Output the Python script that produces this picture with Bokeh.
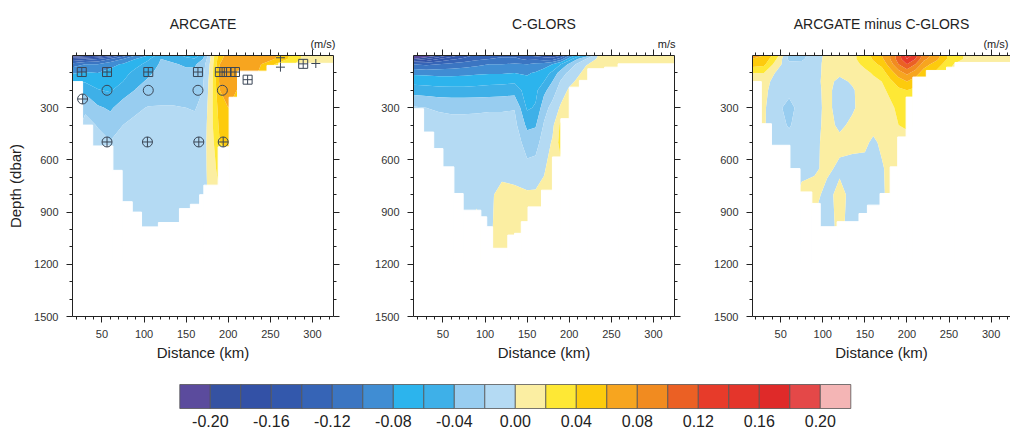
import numpy as np
from bokeh.plotting import figure
from bokeh.models import Range1d, FixedTicker, LinearAxis, Title
from bokeh.layouts import row, column
from bokeh.embed import file_html
from bokeh.resources import INLINE
from bokeh.core.properties import value

FONT = "Liberation Sans"

# ---------------- data ----------------
distance_km = [15, 30, 45, 60, 75, 90, 105, 120, 135, 150, 160, 170, 180, 190, 200, 210, 220, 235, 255, 290, 325]
depth_dbar = [0, 20, 50, 100, 150, 200, 300, 400, 500, 650, 800, 1000, 1200]

# velocity profiles in cm/s: one list per distance, values at depth_dbar
arcgate_cms = [
    [-22, -16, -11, -8.2, -6.2, -5.5, -4, -3, -3, -2, -2, -2, -2],
    [-21, -15, -10, -7.8, -6.2, -4.5, -2.3, -1.5, -1.2, -1, -1, -1, -1],
    [-20, -14, -10, -8, -6.6, -5.9, -3.7, -2.1, -1.5, -1.2, -1, -1, -1],
    [-17, -12, -8.5, -7.5, -6.8, -6.2, -4.3, -2.9, -1.9, -1.5, -1, -1, -1],
    [-13, -10, -7.8, -6.8, -6, -5, -3, -2, -1.5, -1.2, -1, -1, -1],
    [-10, -8, -6.7, -5.3, -4.6, -3.9, -2.3, -1.6, -1.3, -1, -1, -1, -1],
    [-8, -6.3, -5.3, -4.4, -3.7, -3.2, -1.9, -1.5, -1.2, -1, -1, -1, -1],
    [-4.5, -4, -3.7, -3.3, -3, -2.7, -1.9, -1.4, -1.1, -1, -1, -1, -1],
    [-5, -4.5, -3.8, -3.3, -3, -2.7, -1.9, -1.4, -1.1, -1, -1, -1, -1],
    [-6.5, -5.5, -4.3, -3.5, -3.1, -2.8, -2, -1.4, -1, -1, -1, -1, -1],
    [-7, -5.8, -4.3, -3.5, -3.1, -2.8, -2.1, -1.6, -1.1, -1, -1, -1, -1],
    [-5, -4, -3, -2.5, -2.2, -2, -1.6, -1.2, -0.8, -0.6, -0.5, -0.5, -0.5],
    [0.5, 0.5, 0.8, 1, 1.2, 1.3, 1.5, 1.5, 1.2, 0.8, 0.5, 0.5, 0.5],
    [5, 5.5, 6, 6.5, 6.5, 6, 5, 4.5, 4, 3, 2, 1, 1],
    [7, 7, 7, 7, 7, 6.5, 6, 5, 4.5, 3, 2, 1, 1],
    [7, 7, 7, 7, 6.5, 6, 5, 4, 3, 2, 1, 1, 1],
    [7, 7, 7, 6.5, 6, 5, 4, 3, 2, 1, 1, 1, 1],
    [7, 7, 6.5, 6, 5, 4, 3, 2, 1, 1, 1, 1, 1],
    [6.5, 6, 4, 2, 1.5, 1, 1, 1, 1, 1, 1, 1, 1],
    [1.5, 1.5, 1, 1, 1, 1, 1, 1, 1, 1, 1, 1, 1],
    [1, 1, 1, 1, 1, 1, 1, 1, 1, 1, 1, 1, 1],
]

cglors_cms = [
    [-24, -20, -12, -8.4, -6.7, -4.8, -1.8, -1.2, -1, -1, -1, -1, -1],
    [-22, -18, -12.5, -8.5, -6.8, -5, -2, -1.3, -1, -1, -1, -1, -1],
    [-20, -16, -12, -8.6, -7, -5.2, -2.2, -1.4, -1, -1, -1, -1, -1],
    [-17, -14.5, -11.5, -8.6, -7, -5.3, -2.3, -1.5, -1, -1, -1, -1, -1],
    [-15, -13.5, -11, -8.5, -7, -5.3, -2.3, -1.5, -1, -0.8, -0.6, -0.5, -0.5],
    [-13.5, -12.5, -10.5, -8.3, -6.8, -5.2, -2.3, -1.4, -1, -0.7, -0.2, 0.3, 0.3],
    [-13, -12, -10, -8.2, -6.6, -5.1, -2.2, -1.4, -1, -0.7, -0.3, -0.3, -0.3],
    [-12.5, -11.5, -10, -8.2, -6.5, -5, -2.2, -1.4, -1, -0.5, 0.5, 0.8, 0.8],
    [-12.5, -11.5, -9.8, -8, -6.3, -4.8, -2.1, -1.4, -1, -0.5, 0.3, 0.5, 0.5],
    [-14, -12.5, -10, -8.2, -7.5, -7, -6.3, -4.5, -2.8, -1.5, 0.3, 0.5, 0.5],
    [-14.5, -12.5, -9.5, -7.8, -7, -6.5, -5.8, -4.2, -2.8, -1.2, 0.3, 0.5, 0.5],
    [-15, -13, -9, -7, -6, -4.5, -2.8, -1.8, -1, -0.2, 0.5, 0.5, 0.5],
    [-16, -13, -8, -5.5, -4, -3, -1.3, -0.5, 0.2, 0.8, 1, 1, 1],
    [-14, -11, -6, -3, -1.8, -1, 0.3, 2.5, 2.8, 1.5, 1, 1, 1],
    [-10, -7, -3.5, -1.5, -0.5, 0.3, 0.8, 1, 1, 1, 1, 1, 1],
    [-7, -4, -1.5, -0.3, 0.3, 0.5, 1, 1, 1, 1, 1, 1, 1],
    [-5, -2, -0.1, 0.5, 0.5, 0.5, 0.5, 0.5, 0.5, 0.5, 0.5, 0.5, 0.5],
    [0.3, 0.5, 0.5, 0.5, 0.5, 0.5, 0.5, 0.5, 0.5, 0.5, 0.5, 0.5, 0.5],
    [0.5, 0.5, 0.5, 0.5, 0.5, 0.5, 0.5, 0.5, 0.5, 0.5, 0.5, 0.5, 0.5],
    [0.5, 0.5, 0.5, 0.5, 0.5, 0.5, 0.5, 0.5, 0.5, 0.5, 0.5, 0.5, 0.5],
    [0.5, 0.5, 0.5, 0.5, 0.5, 0.5, 0.5, 0.5, 0.5, 0.5, 0.5, 0.5, 0.5],
]

diff_cms = [
    [7, 6, 5, 2, 0.5, 1, 1, 1, 1, 1, 1, 1, 1],
    [6, 5.5, 4.5, 2, 0.8, 0.6, 0.3, 0.2, 0.2, 0.2, 0.2, 0.2, 0.2],
    [3, 2, 1, -0.3, -0.8, -1.2, -1.5, -1.2, -1, -0.8, -0.5, -0.5, -0.5],
    [-2.5, -2.5, -1.5, -1, -1, -1.5, -2.6, -2.2, -1.2, -0.7, -0.5, -0.5, -0.5],
    [-2.6, -2.3, -1.5, -1, -0.8, -0.8, -1.2, -1, -0.8, -0.3, 0.3, -0.3, -0.3],
    [-1, -1, -0.8, -0.6, -0.5, -0.5, -0.6, -0.6, -0.4, -0.2, 0.5, -0.3, -0.3],
    [0.5, 0.6, 0.6, 0.5, 0.5, 0.4, 0.4, 0.5, 0.5, 0.3, -0.5, -0.5, -0.5],
    [0.8, 0.8, 0.6, 0.3, -0.4, -0.6, -0.6, -0.3, 0.4, -0.3, 0.5, 0.3, 0.3],
    [1.5, 1.5, 1.2, 0.8, 0.2, -0.2, -0.2, 0.3, 0.4, -0.5, -0.5, -0.5, -0.5],
    [3, 3, 2.5, 1.5, 1, 0.8, 0.6, 0.4, 0.3, -0.5, -0.5, -0.5, -0.5],
    [4.5, 4.2, 3.5, 2.2, 1.5, 1.2, 0.8, 0.5, -0.3, -0.5, -0.5, -0.5, -0.5],
    [6, 5.5, 4.5, 3, 2, 1.5, 1, 0.8, 0.3, -0.2, -0.3, -0.3, -0.3],
    [8, 8, 7, 5, 3.5, 2.5, 1.5, 1.2, 0.8, 0.5, 0.5, 0.5, 0.5],
    [11, 11, 10, 7, 5, 3.5, 2.5, 2, 1.2, 1, 1, 1, 1],
    [15, 14, 12, 8.5, 6, 4, 3, 2.2, 1.5, 1, 1, 1, 1],
    [13, 12, 10, 7, 5, 3.5, 2.5, 2, 1.5, 1, 1, 1, 1],
    [9, 8.5, 7, 5, 3.5, 2.5, 2, 1.5, 1, 1, 1, 1, 1],
    [7, 6.5, 5, 3.5, 2.5, 2, 1.5, 1, 1, 1, 1, 1, 1],
    [2.5, 2.5, 2, 1.5, 1, 1, 1, 1, 1, 1, 1, 1, 1],
    [1, 1, 1, 1, 1, 1, 1, 1, 1, 1, 1, 1, 1],
    [1, 1, 1, 1, 1, 1, 1, 1, 1, 1, 1, 1, 1],
]

# sea-floor / data limit (stepped) for each section
arcgate_floor_edges_km = [15, 27, 39, 63, 74, 86, 97, 117, 142, 155, 166, 171, 188, 201, 211, 246, 260, 325]
arcgate_floor_dbar = [150, 400, 520, 660, 840, 900, 985, 960, 880, 855, 800, 745, 525, 240, 90, 57, 45]
cglors_floor_edges_km = [15, 27, 39, 50, 63, 74, 95, 102, 109, 127, 135, 143, 151, 167, 180, 190, 200, 212, 222, 242, 258, 325]
cglors_floor_dbar = [306, 440, 535, 640, 793, 889, 927, 984, 1108, 1032, 1022, 955, 870, 774, 583, 363, 182, 143, 76, 67, 48]
diff_floor_edges_km = [15, 27, 39, 61, 73, 87, 97, 117, 143, 153, 168, 180, 189, 199, 207, 223, 247, 257, 325]
diff_floor_dbar = [150, 392, 516, 650, 784, 850, 984, 955, 908, 860, 793, 640, 468, 239, 124, 86, 67, 40]

# ARCGATE instrument positions
sqcross_km = [26, 56, 105, 164, 190, 198, 208, 223, 289]
sqcross_dbar = [95, 95, 95, 95, 95, 95, 95, 139, 48]
circle_km = [56, 105, 164, 193]
circle_dbar = [200, 200, 200, 200]
circcross_km = [27, 56, 104, 165, 194]
circcross_dbar = [250, 497, 497, 497, 497]
plus_km = [262, 262, 304]
plus_dbar = [13, 67, 46]

contour_levels = [-0.20, -0.18, -0.16, -0.14, -0.12, -0.10, -0.08, -0.06, -0.04, -0.02, 0.00,
                  0.02, 0.04, 0.06, 0.08, 0.10, 0.12, 0.14, 0.16, 0.18, 0.20]
palette = ["#5b4b9d", "#3552a2", "#3351a6", "#3358ac", "#3664b6", "#3b75c2", "#408dd3", "#2cb4ed",
           "#3eb0e8", "#98cdf0", "#b4daf3", "#fbeea2", "#fee835", "#fdcb0d", "#f7a51f", "#f18b20",
           "#eb6024", "#e73b2a", "#e4352b", "#df2a29", "#e44848", "#f4b5b5"]
colorbar_label_values = [-0.20, -0.16, -0.12, -0.08, -0.04, 0.00, 0.04, 0.08, 0.12, 0.16, 0.20]
colorbar_labels = ["-0.20", "-0.16", "-0.12", "-0.08", "-0.04", "0.00", "0.04", "0.08", "0.12", "0.16", "0.20"]

x_major = [50, 100, 150, 200, 250, 300]
x_minor = list(range(20, 330, 10))
y_major = [300, 600, 900, 1200, 1500]
y_minor = [100, 200, 400, 500, 700, 800, 1000, 1100, 1300, 1400]

band_levels = [-1.0] + contour_levels + [1.0]
INK = "#222222"


def style_axis(ax, ticks, show_labels):
    ax.major_tick_out = 6
    ax.major_tick_in = 0
    ax.minor_tick_out = 3
    ax.minor_tick_in = 0
    ax.axis_line_color = INK
    ax.major_tick_line_color = INK
    ax.minor_tick_line_color = INK
    ax.major_label_text_font = FONT
    ax.axis_label_text_font = FONT
    ax.axis_label_text_font_style = "normal"
    ax.axis_label_text_color = INK
    ax.axis_label_text_font_size = "15px"
    if show_labels:
        ax.major_label_text_font_size = "11px"
        ax.major_label_text_color = "#333333"
    else:
        ax.major_label_overrides = {t: "" for t in ticks}
        ax.major_label_text_font_size = "1px"
        ax.major_label_text_color = None
        ax.major_label_standoff = 0


def panel(title, unit, unit_offset, cols, floor_edges, floor_dbar, xr, width, bl, br,
          right_axis=True, ylabel=None):
    p = figure(width=width, height=363, x_range=Range1d(*xr), y_range=Range1d(1500, 0),
               x_axis_type=None, y_axis_type=None, output_backend="svg", toolbar_location=None,
               title=None, min_border_left=bl, min_border_right=br, min_border_top=55,
               min_border_bottom=46)
    p.outline_line_color = None

    Z = np.array(cols, dtype=float).T / 100.0
    p.contour(x=distance_km, y=depth_dbar, z=Z, levels=band_levels, fill_color=palette)
    p.quad(left=floor_edges[:-1], right=floor_edges[1:], top=floor_dbar,
           bottom=[1500] * len(floor_dbar), fill_color="white", line_color="white", line_width=1)

    xt = FixedTicker(ticks=x_major, minor_ticks=x_minor)
    yt = FixedTicker(ticks=y_major, minor_ticks=y_minor)
    bx = LinearAxis(ticker=xt, axis_label="Distance (km)")
    style_axis(bx, x_major, True)
    bx.major_label_standoff = 7
    bx.axis_label_standoff = 3
    p.add_layout(bx, "below")
    tx = LinearAxis(ticker=xt)
    style_axis(tx, x_major, False)
    p.add_layout(tx, "above")
    ly = LinearAxis(ticker=yt, axis_label=ylabel)
    style_axis(ly, y_major, True)
    ly.major_label_standoff = 8
    ly.axis_label_standoff = 7
    p.add_layout(ly, "left")
    if right_axis:
        ry = LinearAxis(ticker=yt)
        style_axis(ry, y_major, False)
        p.add_layout(ry, "right")

    p.add_layout(Title(text=unit, align="right", offset=unit_offset, standoff=0,
                       text_font=FONT, text_font_size="11px", text_font_style="normal",
                       text_color=INK), "above")
    p.add_layout(Title(text=title, align="center", standoff=7,
                       text_font=FONT, text_font_size="14px", text_font_style="normal",
                       text_color=INK), "above")
    return p


p1 = panel("ARCGATE", "(m/s)", -2, arcgate_cms, arcgate_floor_edges_km, arcgate_floor_dbar,
           (15, 325), 348, 72, 15, ylabel="Depth (dbar)")
MK = "#3a4656"
p1.scatter(sqcross_km, sqcross_dbar, marker="square_cross", size=9, fill_color=None, line_color=MK, line_width=1)
p1.scatter(circle_km, circle_dbar, marker="circle", size=10, fill_color=None, line_color=MK, line_width=1)
p1.scatter(circcross_km, circcross_dbar, marker="circle_cross", size=10, fill_color=None, line_color=MK, line_width=1)
p1.scatter(plus_km, plus_dbar, marker="cross", size=9, fill_color=None, line_color=MK, line_width=1)

p2 = panel("C-GLORS", "m/s", -1, cglors_cms, cglors_floor_edges_km, cglors_floor_dbar,
           (15, 325), 340, 65, 14)
p3 = panel("ARCGATE minus C-GLORS", "(m/s)", 2, diff_cms, diff_floor_edges_km, diff_floor_dbar,
           (16.5, 323), 322, 64, 0, right_axis=False)

# ---------------- colour bar ----------------
cb_edges = [-0.22] + contour_levels + [0.22]
cb = figure(width=1010, height=67, x_range=Range1d(-0.33757, 0.32472), y_range=Range1d(0, 67),
            x_axis_type=None, y_axis_type=None, output_backend="svg", toolbar_location=None,
            title=None, min_border=0)
cb.outline_line_color = None
cb.quad(left=cb_edges[:-1], right=cb_edges[1:], bottom=22, top=46, fill_color=palette,
        line_color="#555555", line_width=0.8)
cb.text(x=colorbar_label_values, y=[10] * len(colorbar_label_values), text=colorbar_labels,
        text_align="center", text_baseline="middle", text_font=value(FONT),
        text_font_size="16px", text_color=INK)

layout = column(row(p1, p2, p3), cb)
open("out.html", "w").write(file_html(layout, INLINE))
